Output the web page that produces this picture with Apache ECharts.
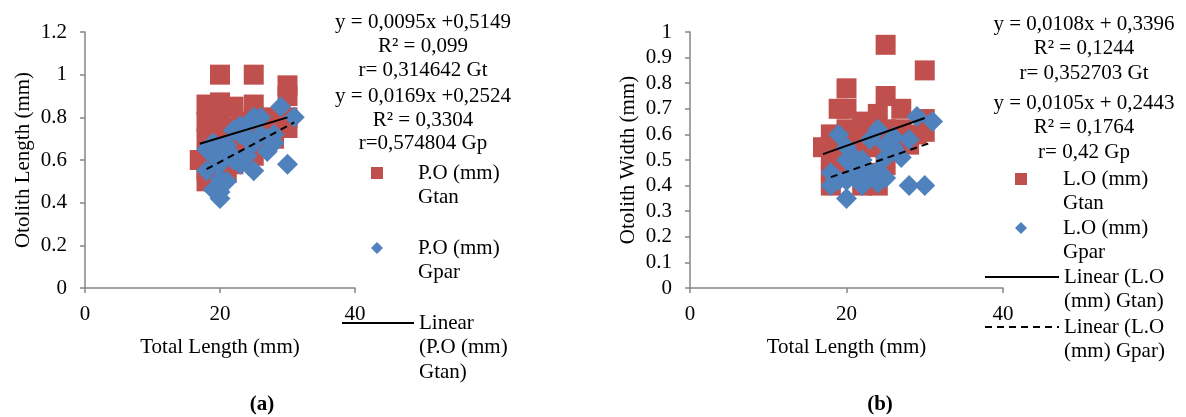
<!DOCTYPE html>
<html>
<head>
<meta charset="utf-8">
<script src="https://cdn.jsdelivr.net/npm/echarts@6/dist/echarts.min.js"></script>
<style>
html,body{margin:0;padding:0;background:#fff;}
#chart{width:1186px;height:417px;}
</style>
</head>
<body>
<div id="chart"></div>
<script>
// ---------- DATA ----------
// Chart (a): Total Length (mm) vs Otolith Length (mm)
const gtanA = [[17,0.6],[18,0.5],[18,0.55],[18,0.7],[18,0.78],[18,0.86],[19,0.65],[19,0.75],[19,0.82],
  [20,1.0],[20,0.87],[20,0.8],[20,0.7],[20,0.62],[21,0.54],[21,0.66],[21,0.75],[22,0.85],[22,0.58],[22,0.7],
  [23,0.65],[23,0.78],[24,0.6],[24,0.72],[25,1.0],[25,0.86],[25,0.8],[25,0.62],[26,0.68],[26,0.78],
  [27,0.8],[27,0.72],[28,0.7],[28,0.77],[29,0.75],[30,0.95],[30,0.9],[30,0.75],[30,0.8]];
const gparA = [[18,0.55],[18,0.65],[19,0.46],[19,0.68],[19,0.62],[20,0.42],[20,0.45],[20,0.51],[20,0.58],
  [20,0.66],[21,0.62],[21,0.67],[21,0.5],[22,0.62],[22,0.74],[22,0.6],[23,0.72],[23,0.76],[23,0.58],
  [24,0.62],[24,0.76],[24,0.7],[25,0.55],[25,0.8],[25,0.68],[26,0.8],[26,0.72],[27,0.64],[27,0.7],
  [28,0.68],[28,0.72],[29,0.85],[30,0.58],[31,0.8]];
const trendGtanA = [[17,0.676],[30,0.80]];
const trendGparA = [[18,0.557],[31,0.776]];
const eqTextA = ['y = 0,0095x +0,5149','R\u00b2 = 0,099','r= 0,314642 Gt','y = 0,0169x +0,2524','R\u00b2 = 0,3304','r=0,574804 Gp'];

// Chart (b): Total Length (mm) vs Otolith Width (mm)
const gtanB = [[17,0.55],[18,0.6],[18,0.5],[18,0.4],[18,0.45],[19,0.7],[19,0.55],[20,0.78],[20,0.7],
  [20,0.62],[20,0.45],[21,0.6],[21,0.5],[22,0.65],[22,0.4],[22,0.55],[23,0.6],[23,0.45],[24,0.68],
  [24,0.4],[24,0.55],[25,0.95],[25,0.75],[25,0.62],[25,0.48],[26,0.6],[27,0.7],[27,0.62],[28,0.56],
  [29,0.6],[30,0.85],[30,0.66],[30,0.61]];
const gparB = [[18,0.45],[18,0.4],[19,0.6],[19,0.42],[20,0.35],[20,0.55],[20,0.5],[20,0.42],[21,0.46],
  [21,0.51],[22,0.4],[22,0.42],[22,0.5],[23,0.58],[23,0.45],[24,0.62],[24,0.41],[24,0.46],[25,0.43],
  [25,0.51],[25,0.56],[26,0.59],[26,0.55],[27,0.51],[28,0.58],[28,0.4],[29,0.67],[30,0.4],[31,0.65]];
const trendGtanB = [[17,0.523],[30,0.664]];
const trendGparB = [[18,0.433],[31,0.570]];
const eqTextB = ['y = 0,0108x + 0,3396','R\u00b2 = 0,1244','r= 0,352703 Gt','y = 0,0105x + 0,2443','R\u00b2 = 0,1764','r= 0,42 Gp'];

// Names / labels
const seriesNamesA = ['P.O (mm) Gtan','P.O (mm) Gpar','Linear (P.O (mm) Gtan)','Linear (P.O (mm) Gpar)'];
const legendLabelsA = [['P.O (mm)','Gtan'],['P.O (mm)','Gpar'],['Linear','(P.O (mm)','Gtan)']];
const seriesNamesB = ['L.O (mm) Gtan','L.O (mm) Gpar','Linear (L.O (mm) Gtan)','Linear (L.O (mm) Gpar)'];
const legendLabelsB = [['L.O (mm)','Gtan'],['L.O (mm)','Gpar'],['Linear (L.O','(mm) Gtan)'],['Linear (L.O','(mm) Gpar)']];
const axisNames = ['Total Length (mm)','Otolith Length (mm)','Otolith Width (mm)'];
const panelLabels = ['(a)','(b)'];

// ---------- STYLE ----------
const FONT = "'Liberation Serif','Times New Roman',serif";
const FS = 21;
const LH = 24.5;
const RED = '#C0504D';
const BLUE = '#4F81BD';
const AXIS = '#868686';
const ICON_SQUARE = 'path://M0,0H10V10H0Z';
const ICON_DIAMOND = 'path://M5,0L10,5L5,10L0,5Z';
const IH = 12;

function xAx(grid){
  return {type:'value', gridIndex:grid, min:0, max:40, interval:20,
    name:axisNames[0], nameLocation:'middle', nameGap:49,
    nameTextStyle:{fontFamily:FONT, fontSize:FS, color:'#000'},
    axisLine:{lineStyle:{color:AXIS, width:1.5}},
    axisTick:{show:true, length:5, lineStyle:{color:AXIS, width:1.5}},
    axisLabel:{fontFamily:FONT, fontSize:FS, color:'#000', margin:16},
    splitLine:{show:false}};
}
function yAx(grid, max, interval, name){
  return {type:'value', gridIndex:grid, min:0, max:max, interval:interval,
    name:name, nameLocation:'middle', nameGap:51,
    nameTextStyle:{fontFamily:FONT, fontSize:FS, color:'#000'},
    axisLine:{show:true, lineStyle:{color:AXIS, width:1.5}},
    axisTick:{show:true, length:5, lineStyle:{color:AXIS, width:1.5}},
    axisLabel:{fontFamily:FONT, fontSize:FS, color:'#000', margin:18},
    splitLine:{show:false}};
}
function scatter(name, data, idx, sym, color, size){
  return {type:'scatter', name:name, data:data, xAxisIndex:idx, yAxisIndex:idx,
    symbol:sym, symbolSize:size, itemStyle:{color:color, opacity:1}, z:2,
    emphasis:{disabled:true}, animation:false};
}
function trend(name, data, idx, dashed){
  return {type:'line', name:name, data:data, xAxisIndex:idx, yAxisIndex:idx,
    symbol:'none', showSymbol:false, z:5,
    lineStyle:{color:'#000', width:2, type: dashed ? [7,5] : 'solid'},
    itemStyle:{color:'#000'}, emphasis:{disabled:true}, animation:false};
}
// Legend item: icon centred on first text line; blank lines before the text keep line 1 on the icon's middle.
// iconCX = horizontal centre of the icon box; w = icon box width.
function legendItem(name, lines, icon, iconCX, iconY, w){
  const n = lines.length;
  const label = new Array(n).join('\n') + lines.join('\n');
  // path icons keep aspect -> only the IH×IH square counts in the item's bounds
  const left = icon ? iconCX - IH/2 : iconCX - w/2;
  const o = {data:[name], left:left, top: iconY - (2*n-1)*LH/2, padding:0,
    orient:'vertical', itemWidth:w, itemHeight:IH, selectedMode:false, symbolKeepAspect:true,
    formatter: function(){ return label; },
    textStyle:{fontFamily:FONT, fontSize:FS, color:'#000', lineHeight:LH}};
  if (icon) o.icon = icon; else o.itemStyle = {opacity:0};
  return o;
}

const graphics = [];
const eqYA = [22,46,70,96,120,143];
eqTextA.forEach(function(t,i){
  graphics.push({type:'text', x:423, y:eqYA[i], style:{text:t, fill:'#000', font: FS+'px '+FONT, textAlign:'center', textVerticalAlign:'middle'}});
});
const eqYB = [24,48,73,103,127,152];
eqTextB.forEach(function(t,i){
  graphics.push({type:'text', x:1084, y:eqYB[i], style:{text:t, fill:'#000', font: FS+'px '+FONT, textAlign:'center', textVerticalAlign:'middle'}});
});
graphics.push({type:'text', x:262, y:405, style:{text:panelLabels[0], fill:'#000', font:'bold '+FS+'px '+FONT, textAlign:'center', textVerticalAlign:'middle'}});
graphics.push({type:'text', x:880, y:405, style:{text:panelLabels[1], fill:'#000', font:'bold '+FS+'px '+FONT, textAlign:'center', textVerticalAlign:'middle'}});

const option = {
  animation:false,
  backgroundColor:'#fff',
  grid:[
    {left:85, right:1186-355, top:32, bottom:417-288, containLabel:false},
    {left:690, right:1186-1003, top:32, bottom:417-288, containLabel:false}
  ],
  xAxis:[xAx(0), xAx(1)],
  yAxis:[yAx(0,1.2,0.2,axisNames[1]), yAx(1,1,0.1,axisNames[2])],
  legend:[
    legendItem(seriesNamesA[0], legendLabelsA[0], ICON_SQUARE, 377, 173, 72),
    legendItem(seriesNamesA[1], legendLabelsA[1], ICON_DIAMOND, 377, 248, 72),
    legendItem(seriesNamesA[2], legendLabelsA[2], null, 377, 323, 72),
    legendItem(seriesNamesB[0], legendLabelsB[0], ICON_SQUARE, 1021, 179, 74),
    legendItem(seriesNamesB[1], legendLabelsB[1], ICON_DIAMOND, 1021, 228, 74),
    legendItem(seriesNamesB[2], legendLabelsB[2], null, 1021, 277, 74),
    legendItem(seriesNamesB[3], legendLabelsB[3], null, 1021, 327, 74)
  ],
  graphic: graphics,
  series:[
    scatter(seriesNamesA[0], gtanA, 0, 'rect', RED, 20),
    scatter(seriesNamesA[1], gparA, 0, 'diamond', BLUE, 21),
    trend(seriesNamesA[2], trendGtanA, 0, false),
    trend(seriesNamesA[3], trendGparA, 0, true),
    scatter(seriesNamesB[0], gtanB, 1, 'rect', RED, 20),
    scatter(seriesNamesB[1], gparB, 1, 'diamond', BLUE, 21),
    trend(seriesNamesB[2], trendGtanB, 1, false),
    trend(seriesNamesB[3], trendGparB, 1, true)
  ]
};
const chart = echarts.init(document.getElementById('chart'), null, {renderer:'canvas'});
chart.setOption(option);
</script>
</body>
</html>
